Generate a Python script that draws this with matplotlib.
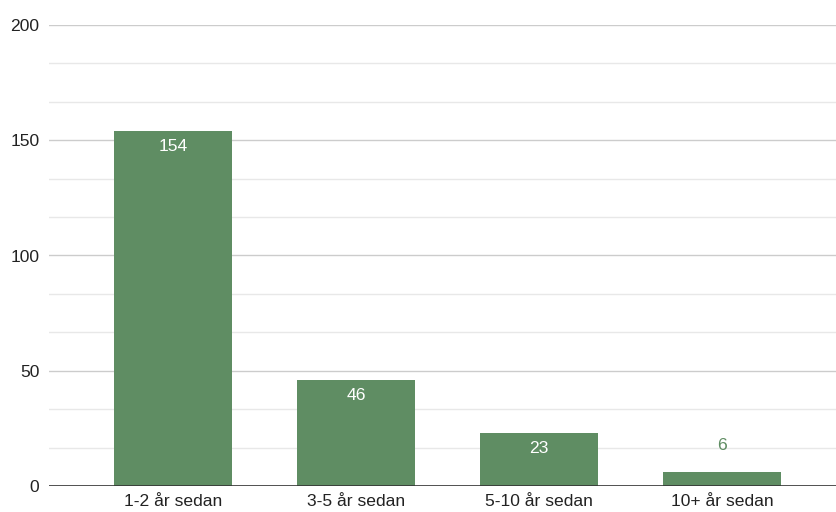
import matplotlib.pyplot as plt
import numpy as np

categories = ['1-2 år sedan', '3-5 år sedan', '5-10 år sedan', '10+ år sedan']
values = [154, 46, 23, 6]
yticks = [0, 50, 100, 150, 200]

bar_color = '#5f8d63'
plt.rcParams['font.family'] = ['Liberation Sans', 'DejaVu Sans']

fig = plt.figure(figsize=(8.37, 5.12), dpi=100)
ax = fig.add_axes([49/837, 1-486/512, 1-49/837, (486-25)/512])

x = np.arange(len(categories))
ax.bar(x, values, width=0.645, color=bar_color, zorder=3)

# gridlines: major every 50, minor every 50/3
for v in np.arange(0, 201, 50/3):
    if v == 0:
        continue
    major = abs(v % 50) < 1e-6 or abs(v % 50 - 50) < 1e-6
    ax.axhline(v, color='#cccccc' if major else '#e8e8e8', lw=1.0, zorder=1)
ax.axhline(0, color='#333333', lw=1.2, zorder=4)

for xi, v in zip(x, values):
    if v > 15:
        ax.annotate(str(v), (xi, v), xytext=(0, -11), textcoords='offset points',
                    ha='center', va='center', color='white', fontsize=12.6, zorder=5)
    else:
        ax.annotate(str(v), (xi, v), xytext=(0, 19.5), textcoords='offset points',
                    ha='center', va='center', color=bar_color, fontsize=12.6, zorder=5)

ax.set_xlim(-0.678, 3.628)
ax.set_ylim(0, 200)
ax.set_yticks(yticks)
ax.set_xticks(x)
ax.set_xticklabels(categories)
ax.tick_params(axis='both', length=0, labelsize=12.6, colors='#222222')
ax.tick_params(axis='y', pad=7)
ax.tick_params(axis='x', pad=6)
for s in ax.spines.values():
    s.set_visible(False)

fig.savefig('out.png', dpi=100)
